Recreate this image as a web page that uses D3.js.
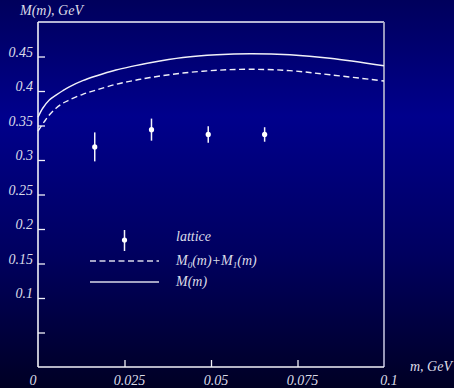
<!DOCTYPE html>
<html lang="en">
<head>
  <meta charset="UTF-8" />
  <title>M(m) vs m</title>
  <style>
    html, body { margin: 0; padding: 0; width: 454px; height: 388px; overflow: hidden; background: #000040; }
    svg { display: block; }
    text { font-family: "Liberation Serif", "DejaVu Serif", serif; font-style: italic; fill: #dcdce8; }
  </style>
</head>
<body>
  <svg width="454" height="388"></svg>
  <script src="https://d3js.org/d3.v7.min.js"></script>
  <script>
    // lattice points
    const latticeM = [0.0164, 0.0328, 0.0492, 0.0655];
    const latticeVal = [0.319, 0.344, 0.337, 0.337];
    const latticeErr = [0.021, 0.016, 0.012, 0.0105];

    // M(m) solid curve
    const solidM = [0, 0.00136, 0.00327, 0.0052, 0.00714, 0.00905, 0.01292, 0.01676, 0.02254, 0.0275, 0.0324, 0.0419, 0.0517, 0.0613, 0.0728, 0.0844, 0.1];
    const solidVal = [0.362, 0.375, 0.387, 0.394, 0.4004, 0.406, 0.4149, 0.4217, 0.4304, 0.436, 0.441, 0.4485, 0.4525, 0.454, 0.4525, 0.4475, 0.4365];

    // M0(m)+M1(m) dashed curve
    const dashM = [0, 0.00182, 0.00327, 0.0052, 0.00714, 0.00905, 0.01292, 0.01676, 0.02254, 0.0275, 0.0324, 0.0419, 0.0516, 0.0613, 0.0728, 0.0844, 0.1];
    const dashVal = [0.342, 0.3555, 0.3652, 0.3749, 0.3822, 0.387, 0.3952, 0.4014, 0.4097, 0.415, 0.4195, 0.426, 0.430, 0.4315, 0.4295, 0.4235, 0.4145];

    const xTicks = [0, 0.025, 0.05, 0.075, 0.1];
    const xTickLabels = ["0", "0.025", "0.05", "0.075", "0.1"];
    const yTicks = [0.05, 0.1, 0.15, 0.2, 0.25, 0.3, 0.35, 0.4, 0.45];
    const yTickLabels = ["", "0.1", "0.15", "0.2", "0.25", "0.3", "0.35", "0.4", "0.45"];

    const svg = d3.select("svg");
    const padL = 38, padR = 384, padT = 22, padB = 367;

    // background gradient
    const defs = svg.append("defs");
    const grad = defs.append("linearGradient")
      .attr("id", "bg").attr("x1", 0).attr("y1", 0).attr("x2", 0).attr("y2", 1);
    grad.append("stop").attr("offset", "0%").attr("stop-color", "#00005c");
    grad.append("stop").attr("offset", "30%").attr("stop-color", "#00008c");
    grad.append("stop").attr("offset", "65%").attr("stop-color", "#000060");
    grad.append("stop").attr("offset", "100%").attr("stop-color", "#000024");
    svg.append("rect").attr("width", 454).attr("height", 388).attr("fill", "url(#bg)");

    const x = d3.scaleLinear().domain([0, 0.1]).range([padL, padR]);
    const y = d3.scaleLinear().domain([0, 0.5]).range([padB, padT]);

    // frame
    svg.append("line").attr("x1", padL).attr("x2", padR).attr("y1", padT).attr("y2", padT)
      .attr("stroke", "#f0f0f8").attr("stroke-width", 1.5);
    svg.append("line").attr("x1", padR).attr("x2", padR).attr("y1", padT).attr("y2", padB)
      .attr("stroke", "#a8a8c8").attr("stroke-width", 1.8);

    // y axis
    const yAxis = svg.append("g").attr("transform", `translate(${padL},0)`)
      .call(d3.axisRight(y).tickValues(yTicks).tickSize(7).tickFormat(""));
    yAxis.select(".domain").remove();
    yAxis.selectAll(".tick line").attr("stroke", "#f0f0f8").attr("stroke-width", 1.3);
    svg.append("line").attr("x1", padL).attr("x2", padL).attr("y1", padT).attr("y2", padB)
      .attr("stroke", "#f0f0f8").attr("stroke-width", 1.6);

    svg.append("g").selectAll("text").data(yTicks).join("text")
      .attr("x", 33).attr("y", d => y(d))
      .attr("text-anchor", "end").attr("font-size", 14)
      .text((d, i) => yTickLabels[i]);

    // x axis
    const xAxis = svg.append("g").attr("transform", `translate(0,${padB})`)
      .call(d3.axisTop(x).tickValues(xTicks.slice(1, 4)).tickSize(7).tickFormat(""));
    xAxis.select(".domain").remove();
    xAxis.selectAll(".tick line").attr("stroke", "#f0f0f8").attr("stroke-width", 1.3);
    svg.append("line").attr("x1", padL).attr("x2", padR).attr("y1", padB).attr("y2", padB)
      .attr("stroke", "#f0f0f8").attr("stroke-width", 1.6);

    svg.append("g").selectAll("text").data(xTicks).join("text")
      .attr("x", d => x(d) + (d === 0 ? -5 : 5)).attr("y", 385)
      .attr("text-anchor", "middle").attr("font-size", 14)
      .text((d, i) => xTickLabels[i]);

    svg.append("text").attr("x", 20).attr("y", 15).attr("font-size", 14).text("M(m), GeV");
    svg.append("text").attr("x", 452).attr("y", 371).attr("text-anchor", "end")
      .attr("font-size", 14).text("m, GeV");

    // curves
    const line = d3.line().x(d => x(d[0])).y(d => y(d[1])).curve(d3.curveCatmullRom.alpha(0.5));
    svg.append("path").datum(solidM.map((m, i) => [m, solidVal[i]]))
      .attr("d", line).attr("fill", "none").attr("stroke", "#f0f0f8").attr("stroke-width", 1.4);
    svg.append("path").datum(dashM.map((m, i) => [m, dashVal[i]]))
      .attr("d", line).attr("fill", "none").attr("stroke", "#f0f0f8").attr("stroke-width", 1.4)
      .attr("stroke-dasharray", "6,3.5");

    // lattice points
    const pts = svg.append("g").selectAll("g").data(latticeM).join("g");
    pts.append("line")
      .attr("x1", d => x(d)).attr("x2", d => x(d))
      .attr("y1", (d, i) => y(latticeVal[i] + latticeErr[i]))
      .attr("y2", (d, i) => y(latticeVal[i] - latticeErr[i]))
      .attr("stroke", "#f4f4fa").attr("stroke-width", 1.5);
    pts.append("circle")
      .attr("cx", d => x(d)).attr("cy", (d, i) => y(latticeVal[i]))
      .attr("r", 2.6).attr("fill", "#ffffff");

    // legend
    const lg = svg.append("g");
    lg.append("line").attr("x1", 124.5).attr("x2", 124.5).attr("y1", 230).attr("y2", 251)
      .attr("stroke", "#f4f4fa").attr("stroke-width", 1.5);
    lg.append("circle").attr("cx", 124.5).attr("cy", 240).attr("r", 2.6).attr("fill", "#fff");
    lg.append("line").attr("x1", 90).attr("x2", 159).attr("y1", 261).attr("y2", 261)
      .attr("stroke", "#d8d8e8").attr("stroke-width", 1.4).attr("stroke-dasharray", "6,3.5");
    lg.append("line").attr("x1", 90).attr("x2", 159).attr("y1", 282).attr("y2", 282)
      .attr("stroke", "#d8d8e8").attr("stroke-width", 1.4);

    lg.append("text").attr("x", 176).attr("y", 241).attr("font-size", 14).text("lattice");
    const t2 = lg.append("text").attr("x", 176).attr("y", 265).attr("font-size", 14);
    t2.append("tspan").text("M");
    t2.append("tspan").attr("font-size", 9).attr("dy", 3).text("0");
    t2.append("tspan").attr("dy", -3).text("(m)+M");
    t2.append("tspan").attr("font-size", 9).attr("dy", 3).text("1");
    t2.append("tspan").attr("dy", -3).text("(m)");
    lg.append("text").attr("x", 176).attr("y", 286).attr("font-size", 14).text("M(m)");
  </script>
</body>
</html>
